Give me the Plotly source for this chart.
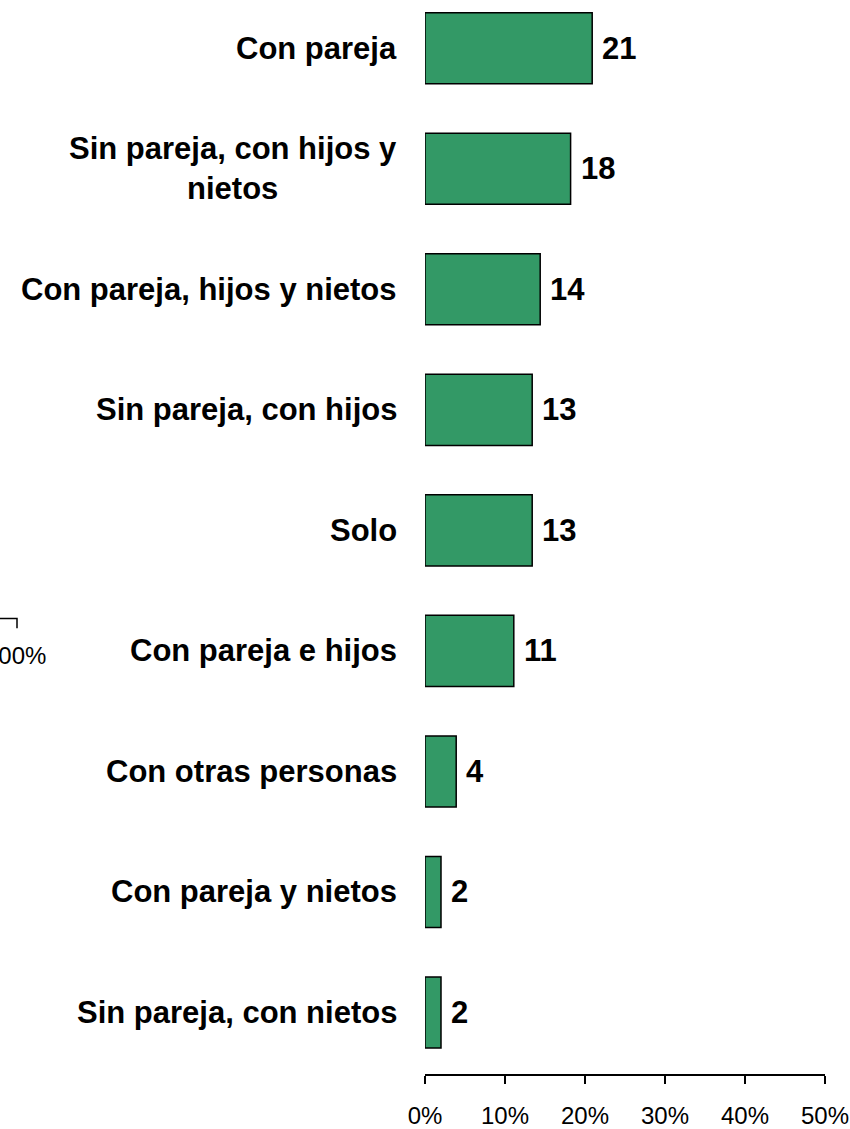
import plotly.graph_objects as go

categorias = [
    "Con pareja",
    "Sin pareja, con hijos y<br>nietos",
    "Con pareja, hijos y nietos",
    "Sin pareja, con hijos",
    "Solo",
    "Con pareja e hijos",
    "Con otras personas",
    "Con pareja y nietos",
    "Sin pareja, con nietos",
]
porcentajes = [20.9, 18.2, 14.4, 13.4, 13.4, 11.1, 3.9, 2.0, 2.0]
etiquetas = ["21", "18", "14", "13", "13", "11", "4", "2", "2"]
ticks_x = [0, 10, 20, 30, 40, 50]

fuente = "Liberation Sans, Arial"

fig = go.Figure()
fig.add_trace(go.Bar(
    x=porcentajes,
    y=categorias,
    orientation="h",
    marker=dict(color="#339966", line=dict(color="black", width=1.5)),
    width=0.59,
    hoverinfo="skip",
))

anotaciones = []
for cat, val, lab in zip(categorias, porcentajes, etiquetas):
    # nombre de la categoria, centrado si ocupa dos lineas
    anotaciones.append(dict(
        x=0, xref="paper", y=cat, yref="y",
        text="<b>" + cat + "</b>", showarrow=False,
        xanchor="right", yanchor="middle", align="center", xshift=-26,
        font=dict(family=fuente, size=31, color="black"),
    ))
    # valor al final de la barra
    anotaciones.append(dict(
        x=val, xref="x", y=cat, yref="y",
        text="<b>" + lab + "</b>", showarrow=False,
        xanchor="left", yanchor="middle", xshift=8,
        font=dict(family=fuente, size=31, color="black"),
    ))

# resto de otro grafico recortado a la izquierda
anotaciones.append(dict(
    x=-0.9425, xref="paper", y=0.39, yref="paper",
    text="100%", showarrow=False, xanchor="right", yanchor="middle",
    font=dict(family=fuente, size=24, color="black"),
))

fig.update_layout(
    width=850, height=1129,
    margin=dict(l=425, r=25, t=0, b=48),
    paper_bgcolor="white", plot_bgcolor="white",
    showlegend=False,
    annotations=anotaciones,
    shapes=[dict(
        type="path", xref="paper", yref="paper",
        path="M -1.2 0.424 L -1.02 0.424 L -1.02 0.415",
        line=dict(color="black", width=1.5),
    )],
    font=dict(family=fuente, color="black"),
)
fig.update_xaxes(
    range=[0, 50], tickvals=ticks_x, ticktext=[f"{t}%" for t in ticks_x],
    showline=True, linecolor="black", linewidth=1.5,
    ticks="outside", ticklen=8, tickcolor="black", tickwidth=1.5,
    showgrid=False, zeroline=False,
    tickfont=dict(size=24, color="black"), ticklabelstandoff=11,
)
fig.update_yaxes(
    type="category", range=[8.51, -0.40],
    showticklabels=False, showline=False, showgrid=False, zeroline=False,
)

fig.write_html("out.html", config={"displayModeBar": False},
               post_script="document.body.style.margin='0px';")
